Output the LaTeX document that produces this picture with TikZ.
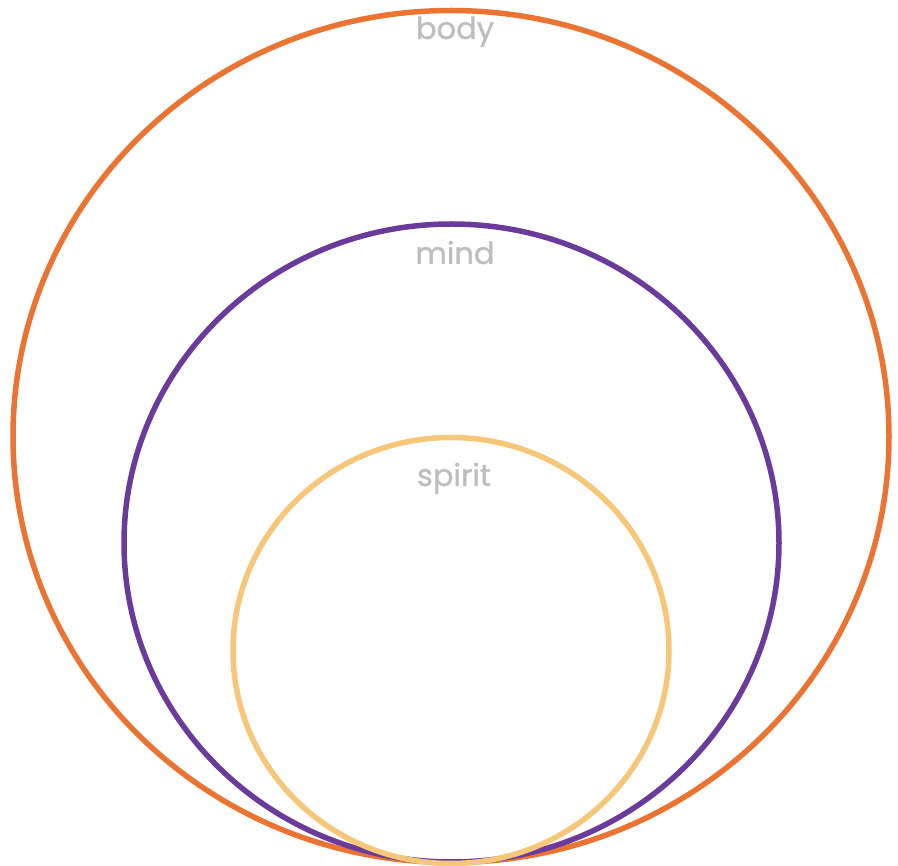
\documentclass[tikz,border=0pt]{standalone}
\usepackage{fontspec}
\setmainfont{Poppins}[FakeBold=1]
\definecolor{bodyc}{HTML}{EC7432}
\definecolor{mindc}{HTML}{6A3B9B}
\definecolor{spiritc}{HTML}{F6C679}
\definecolor{labelc}{HTML}{BDBDBD}
\begin{document}
\begin{tikzpicture}[x=1pt,y=1pt,
  ring/.style={line width=5.5pt},
  lbl/.style={text=labelc,font=\fontsize{30.5}{34}\selectfont,anchor=base,inner sep=0pt}]
\useasboundingbox (0,0) rectangle (898,-866);
\draw[ring,bodyc] (451,-436.5) ellipse [x radius=438, y radius=426];
\draw[ring,mindc] (451.5,-543) ellipse [x radius=327.5, y radius=319];
\draw[ring,spiritc] (451,-650.5) ellipse [x radius=218, y radius=213];
\node[lbl] (body) at (455,-39) {body};
\node[lbl] (mind) at (455,-264) {mind};
\node[lbl] (spirit) at (454,-486) {spirit};
\end{tikzpicture}
\end{document}
